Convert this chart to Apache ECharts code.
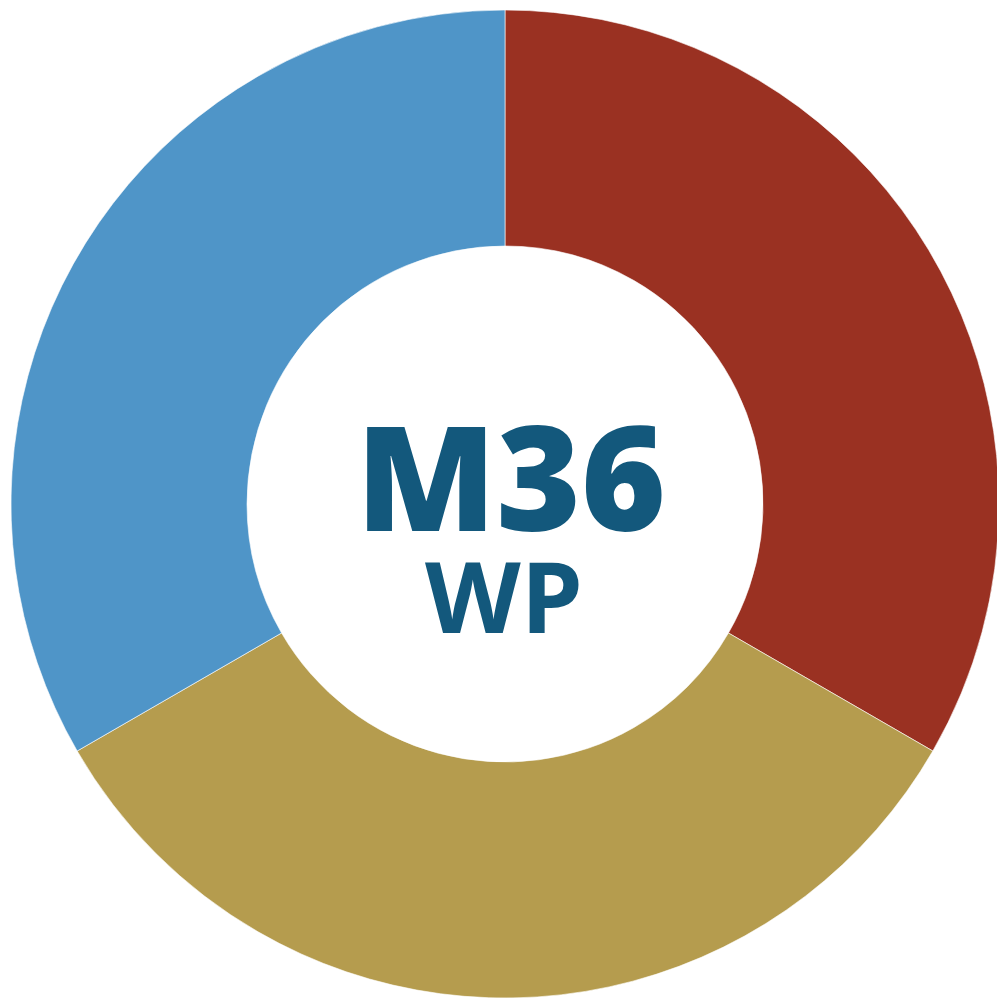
<!DOCTYPE html>
<html>
<head>
<meta charset="utf-8">
<script src="https://cdn.jsdelivr.net/npm/echarts@6/dist/echarts.min.js"></script>
<style>
  html, body { margin: 0; padding: 0; background: #fff; }
  #chart { width: 997px; height: 999px; }
</style>
</head>
<body>
<div id="chart"></div>
<script>
// three equal segments, clockwise from 12 o'clock
var categories = ['Segment 1', 'Segment 2', 'Segment 3'];
var values = [1, 1, 1];
var colors = ['#9a3122', '#b59c4e', '#4f95c8'];
var centerTitle = 'M36';
var centerSubtitle = 'WP';

var chart = echarts.init(document.getElementById('chart'));

var option = {
    animation: false,
    color: colors,
    series: [
        {
            type: 'pie',
            center: [505, 504],
            radius: [258, 494],
            startAngle: 90,
            clockwise: true,
            label: { show: false },
            labelLine: { show: false },
            itemStyle: { borderColor: '#ffffff', borderWidth: 0.6 },
            emphasis: { disabled: true },
            data: categories.map(function (name, i) {
                return { name: name, value: values[i] };
            })
        }
    ],
    graphic: [
        {
            type: 'text',
            x: 511,
            y: 490,
            style: {
                text: centerTitle,
                fill: '#13587c',
                font: '800 145px "Open Sans"',
                textAlign: 'center',
                textVerticalAlign: 'middle'
            }
        },
        {
            type: 'text',
            x: 504,
            y: 605,
            style: {
                text: centerSubtitle,
                fill: '#13587c',
                font: '700 99px "Open Sans"',
                textAlign: 'center',
                textVerticalAlign: 'middle'
            }
        }
    ]
};

chart.setOption(option);
</script>
</body>
</html>
